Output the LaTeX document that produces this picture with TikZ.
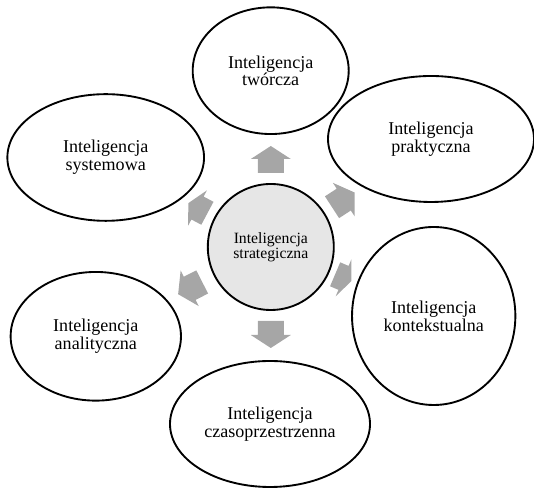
\documentclass[tikz,border=0pt]{standalone}
\usepackage{fontspec}
\setmainfont{Liberation Serif}
\usetikzlibrary{shapes.geometric}
\definecolor{arrowgray}{HTML}{A6A6A6}
\definecolor{hubgray}{HTML}{E6E6E6}
\tikzset{
  intel/.style={ellipse, draw, line width=1.6pt, fill=white, inner sep=0pt, align=center,
    font=\fontsize{15.4}{15.1}\selectfont},
  hub/.style={circle, draw, line width=1.6pt, fill=hubgray, inner sep=0pt, align=center,
    font=\fontsize{13.4}{13.1}\selectfont}
}

\begin{document}
\begin{tikzpicture}[x=0.03cm,y=0.03cm]
	\useasboundingbox (0,0) rectangle (534,488);
	\node[hub, minimum size=3.78cm] (strat) at (270.8,241) {Inteligencja\\strategiczna};
	% block arrows round the hub: angle/distance/length scale
	\foreach \a/\r/\s in {90/88/1,33/87/1,-23/79/0.65,-90/88/1,207/91/1,152/83/0.8}{\begin{scope}[shift={(strat.center)},rotate=\a,shift={(\r,0)},xscale=\s]
			\fill[arrowgray](-14,-13)--(0,-13)--(0,-20)--(13,0)--(0,20)--(0,13)--(-14,13)--cycle;
	\end{scope}}
	\node[intel, minimum width=4.68cm, minimum height=3.8cm] (tworcza) at (270.7,417.3) {Inteligencja\\twórcza};
	\node[intel, minimum width=6.18cm, minimum height=3.78cm] (prakt) at (431,349) {Inteligencja\\praktyczna};
	\node[intel, minimum width=5.9cm, minimum height=3.8cm] (system) at (105.7,330.5) {Inteligencja\\systemowa};
	\node[intel, minimum width=4.9cm, minimum height=5.34cm] (kontekst) at (433.7,172) {Inteligencja\\kontekstualna};
	\node[intel, minimum width=5.11cm, minimum height=3.86cm] (anal) at (95.8,151.7) {Inteligencja\\analityczna};
	\node[intel, minimum width=6cm, minimum height=3.78cm] (czas) at (270,64) {Inteligencja\\czasoprzestrzenna};
\end{tikzpicture}
\end{document}
